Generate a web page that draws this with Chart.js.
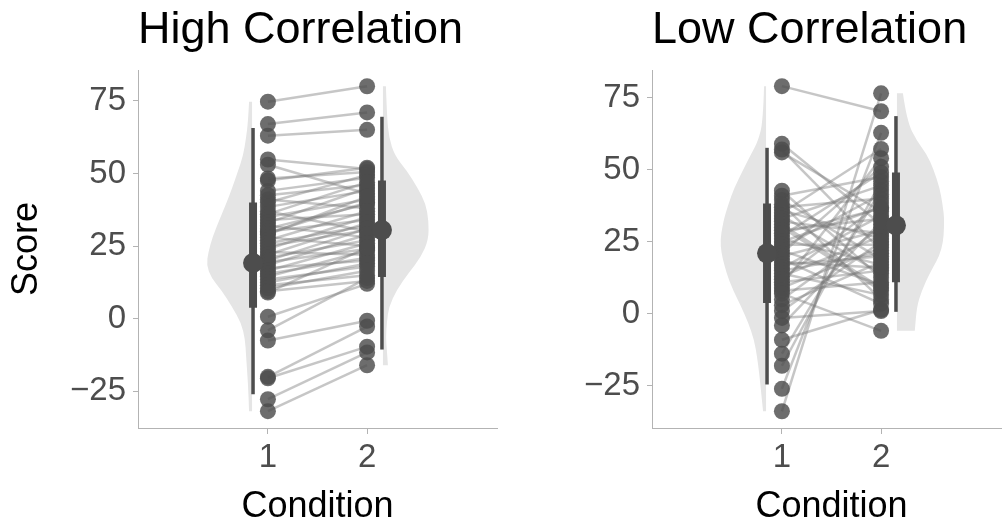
<!DOCTYPE html>
<html>
<head>
<meta charset="utf-8">
<script src="https://cdn.jsdelivr.net/npm/chart.js@4.4.1/dist/chart.umd.min.js"></script>
<style>
  html, body { margin: 0; padding: 0; background: #fff; overflow: hidden; width: 1002px; height: 523px; }
  canvas { position: absolute; top: 0; }
  #hiChart { left: 0; }
  #loChart { left: 514px; }
</style>
</head>
<body>
<canvas id="hiChart" width="512" height="523"></canvas>
<canvas id="loChart" width="512" height="523"></canvas>
<script>
// ---------------------------------------------
// Data
// ---------------------------------------------
const conditions = [1, 2];
const yTicks = [-25, 0, 25, 50, 75];

// High correlation: index i of cond1 is paired with index i of cond2
const hiCond1 = [74.7, 67, 63, 54.8, 53, 48.3, 47.6, 44, 42.5, 41, 40, 38.5, 37, 36, 35, 34, 33, 32, 31, 30,
  29.5, 29, 28, 27, 26, 25, 24, 23, 22, 21, 20, 19.5, 18.5, 17.5, 16.5, 15.5, 14.5, 13.5, 12.5, 11.5,
  10.5, 9.5, 9, 0.7, -4, -7.5, -20, -20.5, -27.7, -31.8];
const hiCond2 = [80, 71, 65, 51.5, 43, 50.5, 52, 48.5, 46, 38, 49.5, 44, 30, 47, 41, 36, 45, 28, 39.5, 34,
  40, 42, 25, 37, 32, 30.5, 35, 22, 33, 27, 31, 24, 29, 20, 26, 21, 23.5, 18, 19, 15,
  16.5, 13, 24.5, 12, 14, -0.7, -2.7, -9.6, -11.6, -16];

// Low correlation
const loCond1 = [79, 59, 57, 56, 42.7, 41, 39.5, 38, 37, 36, 35, 34, 33, 32, 31, 30, 29, 28, 27, 26,
  25, 24, 23, 22, 21, 20, 19, 18, 17, 16, 15, 14, 13, 12, 11, 10, 9, 8, 7, 5,
  3, 1, -1.4, -4, -9, -13.8, -18, -26, -33.8];
const loCond2 = [70.3, 31, 22, 35.5, 12.5, 47.5, 19, 5, 40, 26, 57.2, 14, 44.5, 28, 9, 8, 33, 36.5, 49, 17,
  37, 24, 41.5, 10, 51, 29, 3.5, 16, 20, 34, 21, 6.5, 27, 38.5, 15, 54, 23, 11, -5.9, 30,
  18, 25, 1, 32, 1.4, 43, 46, 62.8, 76.5];

// Half violins: score levels and half widths (in condition units)
const hiViolin1Levels = [74.7, 68, 62.3, 56, 51, 45, 39.7, 34, 28, 23, 18.5, 14, 9.9, 4, -1.4, -7, -13, -22.6, -31.8];
const hiViolin1Widths = [0.03, 0.04, 0.06, 0.09, 0.14, 0.20, 0.26, 0.33, 0.40, 0.44, 0.46, 0.41, 0.31, 0.20, 0.11, 0.07, 0.06, 0.04, 0.03];
const hiViolin2Levels = [80, 70, 62.3, 56, 51, 45, 39.7, 33.9, 27.1, 21, 15.8, 10, 4.1, -1, -6.2, -11, -16];
const hiViolin2Widths = [0.03, 0.04, 0.06, 0.12, 0.24, 0.35, 0.43, 0.46, 0.46, 0.38, 0.26, 0.14, 0.06, 0.04, 0.03, 0.04, 0.05];
const loViolin1Levels = [79, 66.9, 60, 55.5, 50, 43.8, 38, 32.4, 23.8, 14.1, 8, 2.4, -3, -9, -15, -20.3, -27, -33.8];
const loViolin1Widths = [0.02, 0.03, 0.08, 0.15, 0.23, 0.32, 0.38, 0.43, 0.47, 0.40, 0.33, 0.25, 0.18, 0.12, 0.09, 0.07, 0.05, 0.03];
const loViolin2Levels = [76.5, 66.9, 60, 55.5, 50, 43.8, 38, 32.4, 22.1, 14.1, 8, 2.4, -5.9];
const loViolin2Widths = [0.06, 0.10, 0.20, 0.30, 0.37, 0.43, 0.46, 0.48, 0.46, 0.33, 0.25, 0.20, 0.18];

// Summary: [low whisker, lower box, centre dot, upper box, high whisker]
const hiSummary1 = [-26, 3.8, 19.2, 40, 65.6];
const hiSummary2 = [-10.6, 14.4, 30.5, 47.6, 69.5];
const loSummary1 = [-24.5, 3.8, 21, 38.3, 57.6];
const loSummary2 = [0.7, 11, 30.7, 49, 68.6];

// ---------------------------------------------
// Drawing
// ---------------------------------------------
const FONT = "'Liberation Sans', Arial, Helvetica, sans-serif";
const DARK = '#4d4d4d';

// Half violins drawn through the chart's own scales
const violinPlugin = {
  id: 'violins',
  beforeDatasetsDraw(chart) {
    const { ctx, chartArea } = chart;
    const xs = chart.scales.x, ys = chart.scales.y;
    const shapes = chart.options.plugins.violins.shapes;
    ctx.save();
    ctx.beginPath();
    ctx.rect(chartArea.left, chartArea.top, chartArea.width, chartArea.height);
    ctx.clip();
    ctx.fillStyle = '#e5e5e5';
    shapes.forEach(v => {
      const pts = v.levels.map((lv, i) => ({
        x: xs.getPixelForValue(v.base + v.side * v.widths[i]),
        y: ys.getPixelForValue(lv)
      }));
      const bx = xs.getPixelForValue(v.base);
      ctx.beginPath();
      ctx.moveTo(bx, pts[0].y);
      ctx.lineTo(pts[0].x, pts[0].y);
      for (let i = 1; i < pts.length - 1; i++) {
        const mx = (pts[i].x + pts[i + 1].x) / 2;
        const my = (pts[i].y + pts[i + 1].y) / 2;
        ctx.quadraticCurveTo(pts[i].x, pts[i].y, mx, my);
      }
      const last = pts[pts.length - 1];
      ctx.lineTo(last.x, last.y);
      ctx.lineTo(bx, last.y);
      ctx.closePath();
      ctx.fill();
    });
    ctx.restore();
  }
};

function summarySets(s, xPos) {
  return [
    { data: [{ x: xPos, y: s[0] }, { x: xPos, y: s[4] }], showLine: true, borderColor: DARK, borderWidth: 3.5, pointRadius: 0, order: 1 },
    { data: [{ x: xPos, y: s[1] }, { x: xPos, y: s[3] }], showLine: true, borderColor: DARK, borderWidth: 8, pointRadius: 0, order: 1 },
    { data: [{ x: xPos, y: s[2] }], showLine: false, pointRadius: 10, pointBackgroundColor: DARK, pointBorderWidth: 0, order: 0 }
  ];
}

function makePanel(canvasId, title, cond1, cond2, violins, sum1, sum2, yMin, yMax, showYTitle) {
  const ctx = document.getElementById(canvasId).getContext('2d');
  const datasets = [];

  // paired lines
  cond1.forEach((v, i) => {
    datasets.push({
      data: [{ x: conditions[0], y: v }, { x: conditions[1], y: cond2[i] }],
      showLine: true, borderColor: 'rgba(120,120,120,0.42)', borderWidth: 2.5,
      pointRadius: 0, order: 4
    });
  });

  // points
  [cond1, cond2].forEach((arr, k) => {
    datasets.push({
      data: arr.map(v => ({ x: conditions[k], y: v })),
      showLine: false, pointRadius: 8, pointBorderWidth: 0,
      pointBackgroundColor: 'rgba(77,77,77,0.82)', order: 3
    });
  });

  // summary marks
  datasets.push(...summarySets(sum1, 0.85), ...summarySets(sum2, 2.15));

  return new Chart(ctx, {
    type: 'scatter',
    data: { datasets },
    plugins: [violinPlugin],
    options: {
      responsive: false,
      animation: false,
      layout: { padding: { left: 0, right: 15, top: 0, bottom: 0 } },
      plugins: {
        legend: { display: false },
        tooltip: { enabled: false },
        title: {
          display: true, text: title, align: 'start', fullSize: false,
          color: '#000', font: { family: FONT, size: 45, weight: 'normal', lineHeight: 1.2 },
          padding: { top: 4, bottom: 12 }
        },
        violins: { shapes: violins }
      },
      scales: {
        x: {
          type: 'linear', min: -0.31, max: 3.31,
          afterBuildTicks: s => { s.ticks = conditions.map(v => ({ value: v })); },
          afterFit: s => { s.height = 95; },
          ticks: { color: DARK, font: { family: FONT, size: 33 }, padding: 4 },
          grid: { drawOnChartArea: false, drawTicks: true, tickLength: 6, color: '#b3b3b3' },
          border: { display: true, color: '#b3b3b3', width: 1 },
          title: {
            display: true, text: 'Condition', color: '#000',
            font: { family: FONT, size: 36, lineHeight: 0.8 }, padding: { top: 0, bottom: 2 }
          }
        },
        y: {
          min: yMin, max: yMax,
          afterBuildTicks: s => { s.ticks = yTicks.map(v => ({ value: v })); },
          afterFit: s => { s.width = 138; },
          ticks: {
            color: DARK, font: { family: FONT, size: 33 }, padding: 7,
            callback: v => String(v).replace('-', '\u2212')
          },
          grid: { drawOnChartArea: false, drawTicks: true, tickLength: 5, color: '#b3b3b3' },
          border: { display: true, color: '#b3b3b3', width: 1 },
          title: {
            display: showYTitle, text: 'Score', color: '#000',
            font: { family: FONT, size: 36, lineHeight: 1 }, padding: { top: 9, bottom: 0 }
          }
        }
      }
    }
  });
}

makePanel('hiChart', 'High Correlation', hiCond1, hiCond2, [
  { levels: hiViolin1Levels, widths: hiViolin1Widths, base: 0.84, side: -1 },
  { levels: hiViolin2Levels, widths: hiViolin2Widths, base: 2.16, side: 1 }
], hiSummary1, hiSummary2, -37.6, 85.6, true);

makePanel('loChart', 'Low Correlation', loCond1, loCond2, [
  { levels: loViolin1Levels, widths: loViolin1Widths, base: 0.84, side: -1 },
  { levels: loViolin2Levels, widths: loViolin2Widths, base: 2.16, side: 1 }
], loSummary1, loSummary2, -39.6, 84.6, false);
</script>
</body>
</html>
